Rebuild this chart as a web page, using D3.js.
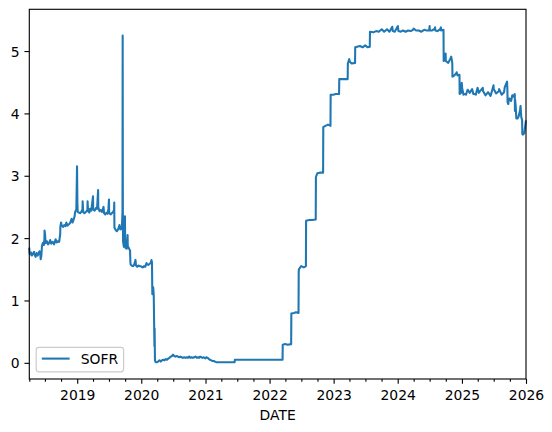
<!DOCTYPE html>
<html>
<head>
<meta charset="utf-8">
<script src="https://cdn.jsdelivr.net/npm/d3@7"></script>
<style>
  body { margin: 0; background: #fff; }
  svg { display: block; font-family: "DejaVu Sans", sans-serif; }
</style>
</head>
<body>
<svg id="chart" width="552" height="432"></svg>
<script>
const dates = [
  '2018-04-03','2018-04-05','2018-04-10','2018-04-13','2018-04-18','2018-04-24','2018-04-30','2018-05-03','2018-05-09','2018-05-15',
  '2018-05-21','2018-05-31','2018-06-04','2018-06-07','2018-06-11','2018-06-14','2018-06-19','2018-06-25','2018-06-28','2018-06-29',
  '2018-07-02','2018-07-05','2018-07-12','2018-07-19','2018-07-26','2018-07-31','2018-08-06','2018-08-14','2018-08-22','2018-08-31',
  '2018-09-06','2018-09-13','2018-09-20','2018-09-26','2018-09-27','2018-10-01','2018-10-05','2018-10-12','2018-10-19','2018-10-26',
  '2018-10-31','2018-11-07','2018-11-14','2018-11-21','2018-11-30','2018-12-05','2018-12-12','2018-12-17','2018-12-20','2018-12-27',
  '2018-12-31',
  '2019-01-02','2019-01-04','2019-01-10','2019-01-17','2019-01-24','2019-01-31','2019-02-01','2019-02-04','2019-02-11','2019-02-19',
  '2019-02-28','2019-03-01','2019-03-04','2019-03-11','2019-03-15','2019-03-22','2019-04-01','2019-04-02','2019-04-10','2019-04-17',
  '2019-04-24','2019-04-30','2019-05-01','2019-05-08','2019-05-15','2019-05-22','2019-05-31','2019-06-03','2019-06-10','2019-06-17',
  '2019-06-24','2019-06-28','2019-07-01','2019-07-02','2019-07-10','2019-07-17','2019-07-24','2019-07-30','2019-07-31','2019-08-01',
  '2019-08-08','2019-08-15','2019-08-22','2019-08-30','2019-09-04','2019-09-10','2019-09-13','2019-09-16','2019-09-17','2019-09-18',
  '2019-09-19','2019-09-24','2019-09-27','2019-09-30','2019-10-01','2019-10-04','2019-10-10','2019-10-15','2019-10-16','2019-10-22',
  '2019-10-29','2019-10-31','2019-11-01','2019-11-07','2019-11-14','2019-11-21','2019-11-29','2019-12-02','2019-12-09','2019-12-16',
  '2019-12-23','2019-12-31',
  '2020-01-02','2020-01-09','2020-01-16','2020-01-23','2020-01-31','2020-02-03','2020-02-10','2020-02-18','2020-02-24','2020-02-28',
  '2020-03-02','2020-03-04','2020-03-09','2020-03-12','2020-03-16','2020-03-17','2020-03-19','2020-03-23','2020-03-31','2020-04-06',
  '2020-04-14','2020-04-21','2020-04-28','2020-05-05','2020-05-12','2020-05-19','2020-05-27','2020-06-03','2020-06-10','2020-06-17',
  '2020-06-24','2020-06-30','2020-07-07','2020-07-14','2020-07-21','2020-07-28','2020-08-04','2020-08-11','2020-08-18','2020-08-25',
  '2020-09-01','2020-09-09','2020-09-16','2020-09-23','2020-09-30','2020-10-07','2020-10-14','2020-10-21','2020-10-28','2020-11-04',
  '2020-11-12','2020-11-19','2020-11-25','2020-12-01','2020-12-08','2020-12-15','2020-12-22','2020-12-31',
  '2021-01-06','2021-01-13','2021-01-20','2021-01-27','2021-02-03','2021-02-10','2021-02-17','2021-02-24','2021-03-03','2021-03-31',
  '2021-04-30','2021-05-28','2021-06-16','2021-06-17','2021-07-30','2021-08-31','2021-09-30','2021-10-29','2021-11-30','2021-12-31',
  '2022-01-31','2022-02-28','2022-03-16','2022-03-17','2022-03-31','2022-04-14','2022-05-04','2022-05-05','2022-05-20','2022-05-31',
  '2022-06-15','2022-06-16','2022-06-17','2022-06-30','2022-07-15','2022-07-27','2022-07-28','2022-08-15','2022-08-31','2022-09-21',
  '2022-09-22','2022-09-30','2022-10-14','2022-11-02','2022-11-03','2022-11-15','2022-11-30','2022-12-14','2022-12-15','2022-12-30',
  '2023-01-13','2023-02-01','2023-02-02','2023-02-15','2023-03-10','2023-03-22','2023-03-23','2023-03-31','2023-04-03','2023-04-14',
  '2023-05-03','2023-05-04','2023-05-31','2023-06-15','2023-06-30','2023-07-14','2023-07-26','2023-07-27','2023-08-15','2023-08-31',
  '2023-09-15','2023-10-02','2023-10-16','2023-11-01','2023-11-15','2023-12-01','2023-12-04','2023-12-15','2023-12-29',
  '2024-01-02','2024-01-05','2024-01-19','2024-01-31','2024-02-15','2024-02-29','2024-03-15','2024-03-28','2024-04-01','2024-04-15',
  '2024-04-30','2024-05-15','2024-05-31','2024-06-14','2024-06-28','2024-07-01','2024-07-02','2024-07-15','2024-07-31','2024-08-01',
  '2024-08-02','2024-08-15','2024-08-30','2024-09-03','2024-09-04','2024-09-18','2024-09-19','2024-09-27','2024-09-30','2024-10-01',
  '2024-10-15','2024-10-31','2024-11-01','2024-11-07','2024-11-08','2024-11-15','2024-11-29','2024-12-02','2024-12-06','2024-12-18',
  '2024-12-19','2024-12-27','2024-12-31',
  '2025-01-02','2025-01-10','2025-01-17','2025-01-24','2025-01-31','2025-02-03','2025-02-14','2025-02-28','2025-03-07','2025-03-14',
  '2025-03-21','2025-03-31','2025-04-07','2025-04-15','2025-04-30','2025-05-01','2025-05-15','2025-05-30','2025-06-13','2025-06-30',
  '2025-07-01','2025-07-15','2025-07-31','2025-08-01','2025-08-15','2025-08-29','2025-09-02','2025-09-15','2025-09-17','2025-09-18',
  '2025-09-22','2025-09-26','2025-09-30','2025-10-08','2025-10-15','2025-10-22','2025-10-29','2025-10-30','2025-10-31','2025-11-03',
  '2025-11-07','2025-11-14','2025-11-20','2025-11-28','2025-12-01','2025-12-05','2025-12-10','2025-12-11','2025-12-15','2025-12-22',
  '2025-12-31'
];

const sofr = [
  1.83,1.75,1.74,1.77,1.72,1.75,1.78,1.74,1.70,1.76,
  1.72,1.79,1.76,1.66,1.73,1.87,1.92,1.89,1.98,2.12,
  2.05,1.92,1.95,1.90,1.93,1.97,1.91,1.94,1.90,1.98,
  1.93,1.95,1.94,2.06,2.18,2.25,2.20,2.18,2.21,2.19,
  2.25,2.20,2.22,2.24,2.31,2.25,2.30,2.35,2.42,2.46,
  3.15,
  2.56,2.42,2.41,2.40,2.42,2.46,2.59,2.42,2.40,2.42,
  2.45,2.59,2.43,2.41,2.47,2.44,2.67,2.46,2.44,2.48,
  2.47,2.77,2.50,2.43,2.45,2.42,2.50,2.40,2.38,2.41,
  2.39,2.48,2.62,2.41,2.38,2.40,2.42,2.45,2.57,2.17,
  2.13,2.11,2.14,2.21,2.14,2.15,2.20,2.43,5.25,2.55,
  1.95,1.86,1.92,2.35,1.99,1.84,1.83,2.05,1.87,1.84,
  1.80,1.62,1.58,1.56,1.55,1.57,1.65,1.56,1.54,1.56,
  1.55,1.55,
  1.54,1.53,1.55,1.54,1.60,1.58,1.57,1.59,1.60,1.65,
  1.61,1.10,1.21,1.09,0.26,0.55,0.04,0.01,0.01,0.02,
  0.04,0.02,0.04,0.05,0.04,0.06,0.05,0.07,0.08,0.10,
  0.11,0.13,0.11,0.10,0.11,0.10,0.09,0.10,0.09,0.08,
  0.09,0.08,0.09,0.08,0.10,0.08,0.09,0.08,0.09,0.10,
  0.08,0.09,0.08,0.10,0.09,0.08,0.09,0.07,
  0.09,0.08,0.06,0.05,0.04,0.03,0.03,0.02,0.01,0.01,
  0.01,0.01,0.01,0.05,0.05,0.05,0.05,0.05,0.05,0.05,
  0.05,0.05,0.05,0.29,0.30,0.29,0.30,0.79,0.80,0.81,
  0.80,1.45,1.50,1.55,1.53,1.55,2.28,2.29,2.29,2.30,
  2.98,3.04,3.05,3.05,3.78,3.80,3.82,3.80,4.30,4.30,
  4.31,4.31,4.55,4.55,4.55,4.55,4.80,4.87,4.83,4.80,
  4.81,5.06,5.08,5.06,5.09,5.06,5.07,5.31,5.30,5.32,
  5.31,5.35,5.31,5.35,5.31,5.39,5.32,5.31,5.38,
  5.40,5.32,5.31,5.33,5.31,5.33,5.32,5.34,5.36,5.33,
  5.33,5.31,5.34,5.33,5.33,5.40,5.33,5.33,5.36,5.38,
  5.33,5.32,5.35,5.38,5.33,5.34,4.84,4.86,4.96,4.84,
  4.81,4.90,4.91,4.81,4.59,4.60,4.64,4.66,4.61,4.62,
  4.31,4.33,4.49,
  4.41,4.30,4.31,4.30,4.36,4.38,4.33,4.39,4.31,4.31,
  4.30,4.41,4.33,4.36,4.41,4.36,4.29,4.34,4.28,4.45,
  4.39,4.32,4.36,4.39,4.30,4.34,4.42,4.51,4.38,4.18,
  4.15,4.24,4.24,4.20,4.29,4.27,4.31,4.04,4.22,4.13,
  3.92,3.92,3.95,4.05,4.12,3.94,3.89,3.67,3.66,3.68,
  3.87
];

const yTicks = [0, 1, 2, 3, 4, 5];
const seriesName = 'SOFR';
const xLabel = 'DATE';

const parse = d3.timeParse('%Y-%m-%d');
const data = dates.map((d, i) => ({ date: parse(d), value: sofr[i] }));

// axes box (matplotlib default axes at 100 dpi, cropped tight)
const plotLeft = 29.3, plotRight = 526, plotTop = 9.3, plotBottom = 379;
const fontSize = 13.9;

const svg = d3.select('#chart');

const x0 = data[0].date;
const x1 = d3.timeYear.ceil(data[data.length - 1].date);
const x = d3.scaleTime().domain([x0, x1]).range([plotLeft, plotRight]);

const [lo, hi] = d3.extent(sofr);
const pad = (hi - lo) * 0.05;
const y = d3.scaleLinear().domain([lo - pad, hi + pad]).range([plotBottom, plotTop]);

// the line
const line = d3.line()
  .x(d => x(d.date))
  .y(d => y(d.value));

svg.append('path')
  .datum(data)
  .attr('d', line)
  .attr('fill', 'none')
  .attr('stroke', '#1f77b4')
  .attr('stroke-width', 2.08)
  .attr('stroke-linejoin', 'round')
  .attr('stroke-linecap', 'square');

// x axis: years as major ticks, quarters as minor
const years = d3.timeYear.range(d3.timeYear.ceil(x0), d3.timeDay.offset(x1, 1));
const quarters = [x0].concat(
  d3.timeMonth.every(3).range(x0, x1).filter(d => d.getMonth() !== 0)
);

const xMajor = svg.append('g')
  .attr('transform', `translate(0,${plotBottom})`)
  .call(d3.axisBottom(x).tickValues(years).tickFormat(d3.timeFormat('%Y'))
    .tickSize(4.86).tickPadding(4.86));

const xMinor = svg.append('g')
  .attr('transform', `translate(0,${plotBottom})`)
  .call(d3.axisBottom(x).tickValues(quarters).tickFormat('').tickSize(2.78));

const yAxis = svg.append('g')
  .attr('transform', `translate(${plotLeft},0)`)
  .call(d3.axisLeft(y).tickValues(yTicks).tickFormat(d3.format('d'))
    .tickSize(4.86).tickPadding(4.86));

[xMajor, xMinor, yAxis].forEach(g => {
  g.select('.domain').remove();
  g.attr('font-family', '"DejaVu Sans", sans-serif').attr('font-size', fontSize);
  g.selectAll('.tick line').attr('stroke', '#000').attr('stroke-width', 1.11);
  g.selectAll('.tick text').attr('fill', '#000');
});
xMajor.selectAll('.tick text').attr('dy', '0.79em');
yAxis.selectAll('.tick text').attr('dy', '0.36em');

// spines
svg.append('rect')
  .attr('x', plotLeft).attr('y', plotTop)
  .attr('width', plotRight - plotLeft).attr('height', plotBottom - plotTop)
  .attr('fill', 'none')
  .attr('stroke', '#000')
  .attr('stroke-width', 1.11);

// axis label
svg.append('text')
  .attr('x', (plotLeft + plotRight) / 2)
  .attr('y', 420)
  .attr('text-anchor', 'middle')
  .attr('font-size', fontSize)
  .text(xLabel);

// legend, lower left
const lg = svg.append('g');
lg.append('rect')
  .attr('x', 36.2).attr('y', 347.3)
  .attr('width', 87.4).attr('height', 24.6)
  .attr('rx', 2.8)
  .attr('fill', '#fff').attr('fill-opacity', 0.8)
  .attr('stroke', '#cccccc').attr('stroke-width', 1.2);
lg.append('line')
  .attr('x1', 41.8).attr('x2', 69.6)
  .attr('y1', 358.6).attr('y2', 358.6)
  .attr('stroke', '#1f77b4').attr('stroke-width', 2.08);
lg.append('text')
  .attr('x', 80.8).attr('y', 358.6)
  .attr('dy', '0.36em')
  .attr('font-size', fontSize)
  .text(seriesName);
</script>
</body>
</html>
